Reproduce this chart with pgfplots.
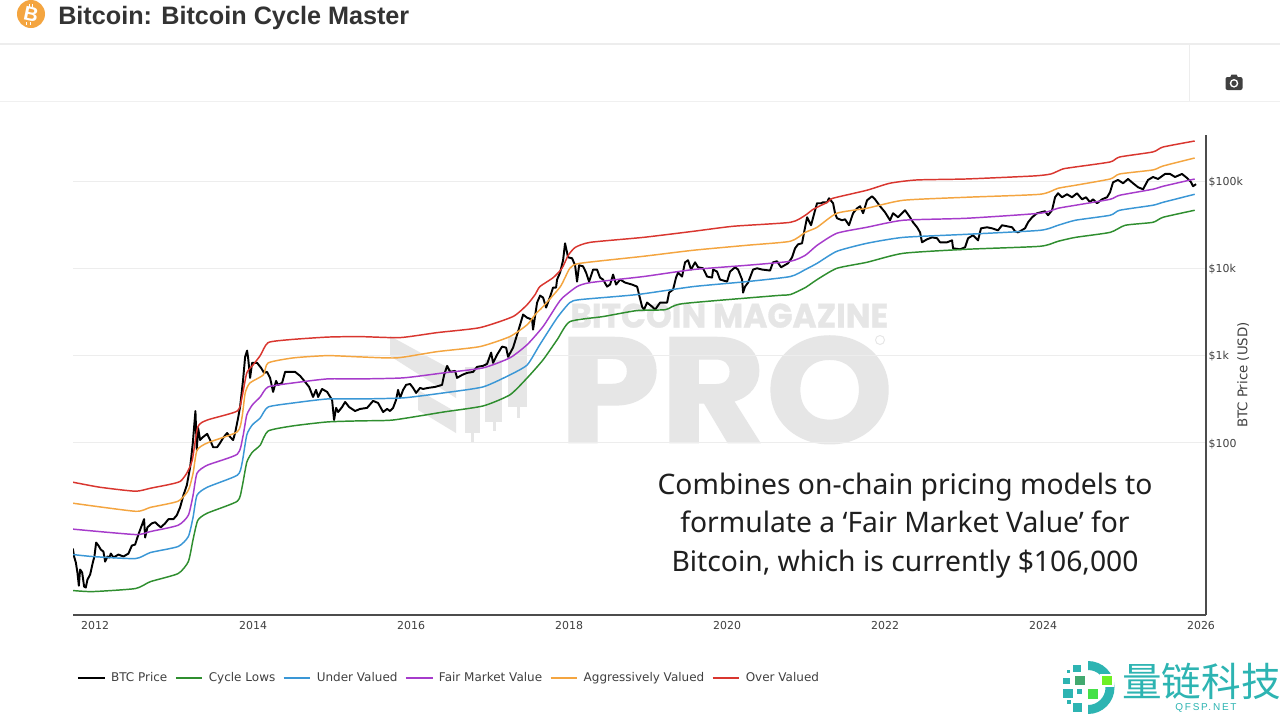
\documentclass[border=0pt]{standalone}
\usepackage{fontspec}
\usepackage{graphicx}
\usepackage{pgfplots}
\usepackage{pgfplotstable}
\pgfplotsset{compat=1.18}
\setmainfont{DejaVu Sans}
\newfontfamily\titlefont{Liberation Sans}
\newfontfamily\notefont{Noto Sans}
\newfontfamily\wmfont[BoldFeatures={FakeBold=1}]{Poppins}
\newfontfamily\cjk{Noto Sans CJK SC}
\newfontfamily\qfsp[LetterSpace=18]{Liberation Sans}

\definecolor{cRed}{HTML}{D9362F}
\definecolor{cOrange}{HTML}{F4A540}
\definecolor{cPurple}{HTML}{A63BCB}
\definecolor{cBlue}{HTML}{3A97D6}
\definecolor{cGreen}{HTML}{2F8E2F}
\definecolor{cWater}{HTML}{E6E6E6}
\definecolor{cTeal}{HTML}{2DB4B2}

% BTC price
\pgfplotstableread{
year price
2011.718 6.17
2011.734 5.0
2011.756 4.27
2011.776 3.28
2011.794 2.32
2011.81 3.55
2011.836 3.28
2011.861 2.26
2011.882 2.21
2011.903 2.72
2011.937 3.11
2011.971 4.27
2011.991 5.0
2012.013 7.23
2012.042 6.68
2012.072 6.01
2012.105 5.70
2012.127 4.38
2012.156 5.0
2012.181 4.87
2012.199 5.41
2012.232 4.87
2012.295 5.27
2012.358 5.0
2012.422 5.41
2012.465 6.68
2012.506 6.86
2012.548 8.93
2012.591 11.4
2012.62 13.4
2012.633 8.25
2012.662 10.8
2012.718 12.0
2012.76 12.35
2012.801 11.4
2012.832 10.8
2012.886 12.0
2012.928 13.4
2012.991 13.4
2013.034 14.85
2013.076 18.3
2013.118 25.2
2013.161 32.8
2013.203 52.7
2013.237 100
2013.253 152
2013.27 232
2013.287 82.5
2013.304 148
2013.329 108
2013.367 117
2013.418 127
2013.456 108
2013.494 89.3
2013.544 89.3
2013.582 100
2013.62 114
2013.671 130
2013.709 117
2013.747 108
2013.772 130
2013.81 193
2013.835 258
2013.873 527
2013.899 967
2013.924 1141
2013.937 942
2013.962 556
2013.987 825
2014.051 825
2014.101 723
2014.139 634
2014.177 651
2014.215 556
2014.253 384
2014.291 513
2014.316 462
2014.367 487
2014.405 651
2014.468 651
2014.532 651
2014.595 586
2014.658 500
2014.709 438
2014.759 336
2014.797 405
2014.823 336
2014.873 415
2014.937 384
2015.0 311
2015.025 183
2015.051 252
2015.076 226
2015.127 258
2015.165 295
2015.215 258
2015.291 232
2015.354 245
2015.443 252
2015.519 303
2015.582 287
2015.646 226
2015.696 245
2015.734 232
2015.772 252
2015.81 311
2015.835 405
2015.861 328
2015.899 405
2015.937 462
2015.987 474
2016.025 427
2016.063 374
2016.114 427
2016.152 415
2016.215 427
2016.304 438
2016.392 462
2016.418 601
2016.456 763
2016.494 651
2016.557 668
2016.582 556
2016.646 601
2016.709 634
2016.785 651
2016.835 743
2016.911 763
2016.962 804
2017.013 1082
2017.038 825
2017.089 1027
2017.152 1268
2017.203 1235
2017.228 967
2017.291 1235
2017.354 1883
2017.418 2950
2017.468 2720
2017.532 2580
2017.544 1985
2017.595 4050
2017.633 4870
2017.671 4620
2017.709 3550
2017.76 4740
2017.797 6010
2017.835 6010
2017.848 7430
2017.886 8930
2017.924 12350
2017.949 19330
2017.987 13370
2018.038 13020
2018.076 10820
2018.101 7040
2018.127 10820
2018.177 10540
2018.215 8930
2018.253 7040
2018.304 9670
2018.354 9670
2018.392 7830
2018.43 7430
2018.481 6170
2018.519 6510
2018.557 8470
2018.595 6510
2018.646 7430
2018.709 6860
2018.797 6510
2018.861 6170
2018.886 5000
2018.924 3640
2018.949 3360
2018.987 4050
2019.051 3640
2019.089 3360
2019.152 4050
2019.241 4050
2019.266 5270
2019.316 5700
2019.354 7830
2019.38 8930
2019.43 8040
2019.468 11710
2019.506 12350
2019.544 9670
2019.595 11710
2019.633 10270
2019.696 10000
2019.747 8040
2019.81 7830
2019.823 9670
2019.873 9170
2019.911 7430
2020.0 7040
2020.038 9170
2020.101 10270
2020.139 9670
2020.19 7430
2020.203 5270
2020.228 6170
2020.266 6860
2020.329 9670
2020.38 10000
2020.443 9670
2020.544 9420
2020.582 11710
2020.633 12030
2020.684 10270
2020.772 11410
2020.823 13370
2020.861 16950
2020.899 18830
2020.949 19330
2020.975 25800
2021.013 38400
2021.063 31100
2021.114 46200
2021.139 55600
2021.19 55600
2021.215 57000
2021.266 57000
2021.291 63400
2021.342 55600
2021.367 42700
2021.392 37400
2021.456 35500
2021.494 36400
2021.544 31100
2021.595 42700
2021.646 48700
2021.684 51300
2021.722 42700
2021.772 60100
2021.835 66800
2021.873 61700
2021.937 51300
2022.0 43800
2022.063 35500
2022.101 42700
2022.165 38400
2022.253 46200
2022.316 38400
2022.354 33600
2022.405 29500
2022.443 25800
2022.468 19850
2022.532 21500
2022.595 22600
2022.658 22100
2022.696 19850
2022.785 19850
2022.848 20900
2022.861 16950
2022.949 16510
2023.013 17400
2023.051 22100
2023.114 23900
2023.177 20900
2023.215 28700
2023.291 29500
2023.354 28700
2023.43 27200
2023.481 31100
2023.544 30300
2023.608 29500
2023.646 26500
2023.684 25800
2023.772 28700
2023.81 33600
2023.861 38400
2023.924 42700
2024.025 45000
2024.063 40500
2024.114 46200
2024.152 65100
2024.19 72300
2024.241 65100
2024.304 70400
2024.367 65100
2024.43 72300
2024.494 61700
2024.544 65100
2024.595 57000
2024.633 61700
2024.684 55600
2024.747 61700
2024.81 65100
2024.848 74300
2024.886 96700
2024.949 102700
2025.013 94200
2025.076 105400
2025.139 94200
2025.203 84700
2025.266 80400
2025.329 102700
2025.392 111100
2025.456 105400
2025.544 120300
2025.608 120300
2025.671 111100
2025.759 120300
2025.823 108200
2025.873 97000
2025.899 87000
2025.937 92000
}\btcprice

\pgfplotstableread{
year price
2011.72 2.04
2011.97 1.985
2012.51 2.15
2012.70 2.58
2013.05 3.19
2013.18 4.38
2013.24 7.83
2013.30 13.0
2013.42 15.7
2013.80 21.5
2013.86 31.1
2013.92 60.1
2013.99 78.3
2014.09 94.2
2014.19 137
2014.51 157
2014.94 174
2015.35 179
2015.77 183
2016.41 226
2016.91 265
2017.25 355
2017.47 556
2017.67 893
2017.85 1525
2018.01 2450
2018.43 2800
2018.86 3280
2019.22 3360
2019.44 3940
2020.63 4870
2020.80 5000
2020.99 6010
2021.14 7430
2021.39 10000
2021.77 11710
2022.23 14850
2023.03 16510
2023.96 17860
2024.19 20380
2024.41 22600
2024.85 25800
2025.04 31100
2025.39 33600
2025.52 38400
2025.92 46200
}\cyclelows

\pgfplotstableread{
year price
2011.72 5.27
2011.97 5.0
2012.51 4.74
2012.70 5.56
2013.05 6.51
2013.18 8.47
2013.24 14.1
2013.29 25.2
2013.42 31.1
2013.80 42.7
2013.86 58.6
2013.92 123.5
2013.99 161
2014.09 193
2014.19 258
2014.51 287
2014.94 319
2015.35 319
2015.90 328
2016.41 374
2016.91 438
2017.25 601
2017.47 783
2017.63 1337
2017.85 2720
2018.01 4050
2018.14 4380
2018.86 5000
2019.57 6170
2020.25 7040
2020.80 8040
2020.99 9670
2021.14 11410
2021.39 15660
2021.77 19330
2022.23 22600
2023.03 24500
2023.96 27200
2024.19 31100
2024.41 35500
2024.85 40500
2024.97 46200
2025.39 52700
2025.52 57000
2025.92 70400
}\undervalued

\pgfplotstableread{
year price
2011.72 10.3
2012.51 8.93
2012.70 9.67
2013.05 11.4
2013.18 14.85
2013.24 25.2
2013.29 45
2013.42 55.6
2013.80 74.3
2013.87 117
2013.92 209
2013.99 272
2014.09 336
2014.19 438
2014.51 487
2014.94 541
2015.35 541
2015.90 556
2016.41 634
2016.91 723
2017.25 942
2017.47 1337
2017.67 2150
2017.85 3840
2017.92 4620
2018.10 6170
2018.27 6860
2018.94 8040
2019.57 9670
2020.25 10820
2020.80 12030
2020.99 14090
2021.14 18340
2021.39 25200
2021.77 29500
2022.23 35500
2023.03 37400
2023.96 42700
2024.19 48700
2024.41 52700
2024.85 61700
2024.97 68600
2025.39 80400
2025.52 87000
2025.92 105400
}\fairvalue

\pgfplotstableread{
year price
2011.72 20.4
2012.51 16.5
2012.70 18.3
2013.05 21.5
2013.18 28.7
2013.24 45
2013.29 82.5
2013.42 100
2013.80 134
2013.86 198
2013.90 374
2013.96 487
2014.13 601
2014.19 825
2014.51 942
2014.94 1000
2015.35 967
2015.82 942
2016.33 1111
2016.87 1268
2017.25 1651
2017.47 2260
2017.57 2950
2017.67 3640
2017.89 6170
2018.01 10000
2018.14 11410
2018.94 13720
2019.57 16080
2020.25 18340
2020.80 20380
2020.99 25800
2021.14 29500
2021.39 42700
2021.77 48700
2022.23 60100
2023.03 65100
2023.96 70400
2024.19 82500
2024.41 89300
2024.85 105400
2024.97 120300
2025.39 133700
2025.52 148500
2025.92 183400
}\aggressive

\pgfplotstableread{
year price
2011.72 35.5
2012.06 31.1
2012.51 28
2012.70 30.3
2012.95 33.6
2013.08 36.4
2013.16 45
2013.23 63.4
2013.30 152.5
2013.42 183
2013.80 232
2013.86 336
2013.92 634
2014.00 783
2014.09 1000
2014.19 1409
2014.47 1525
2014.94 1630
2015.35 1651
2015.86 1608
2016.33 1834
2016.87 2090
2017.29 2800
2017.47 3840
2017.57 5000
2017.63 6170
2017.80 7830
2017.91 10000
2017.99 14090
2018.08 17400
2018.27 19850
2018.94 22600
2019.57 26500
2020.08 30300
2020.80 33600
2020.99 40500
2021.09 47400
2021.27 57000
2021.34 63400
2021.77 78300
2022.06 94200
2022.40 102700
2023.03 105400
2023.88 114100
2024.10 120300
2024.25 137200
2024.41 144700
2024.85 165100
2024.97 188300
2025.39 215000
2025.52 245000
2025.92 287000
}\overvalued

\begin{document}
\begin{tikzpicture}[x=0.75pt,y=-0.75pt]
\path[use as bounding box,fill=white] (0,0) rectangle (1280,719);

% page header
\fill[black!7] (0,43) rectangle (1280,45);
\fill[black!6] (0,100.5) rectangle (1280,102);
\fill[black!7] (1188.5,44) rectangle (1189.5,101);
\fill[cOrange] (31,14) circle[radius=14];
\node[white,font=\titlefont\bfseries\fontsize{15}{15}\selectfont,rotate=-12] at (31,14.5) {B};
\foreach \dx in {-1.5,2} {
  \fill[white] (30+\dx,3.8) rectangle (31+\dx,7);
  \fill[white] (27.5+\dx,21.5) rectangle (28.5+\dx,25);
}
\node[anchor=west,inner sep=0pt,text=black!80,font=\titlefont\bfseries\fontsize{18.9}{21}\selectfont] at (58,18) {Bitcoin: Bitcoin Cycle Master};
% camera icon
\fill[black!75,rounded corners=1.5pt] (1225.5,77) rectangle (1242.5,90);
\fill[black!75] (1230,77.5) -- (1231.5,74.5) -- (1236.5,74.5) -- (1238,77.5) -- cycle;
\fill[white] (1234,83.3) circle[radius=4.3];
\fill[black!75] (1234,83.3) circle[radius=2.7];

% watermark
\fill[cWater] (390,336) -- (390,356) -- (456,398) -- (456,372) -- cycle;
\fill[cWater] (418,410) -- (456,433) -- (456,412) -- (418,390) -- cycle;
\fill[cWater] (465,367) rectangle (480,433);
\fill[cWater] (471,430) rectangle (474,443);
\fill[cWater] (485,360) rectangle (502,422);
\fill[cWater] (493,420) rectangle (496,431);
\fill[cWater] (508,337) rectangle (527,407);
\fill[cWater] (517,405) rectangle (520,418);
\node[anchor=south west,inner sep=0pt,text=cWater] at (570,328)
  {\resizebox{238.5pt}{18pt}{\wmfont\bfseries BITCOIN MAGAZINE}};
\node[anchor=south west,inner sep=0pt,text=cWater] at (558.8,444)
  {\resizebox{250.5pt}{80pt}{\wmfont\bfseries PRO}};
\draw[cWater,line width=0.7pt] (880,340) circle[radius=4.5];

\begin{axis}[
    at={(54.75pt,-461.25pt)},
    anchor=south west,
    scale only axis,
    width=849.75pt,
    height=360pt,
    xmin=2011.72, xmax=2026.063,
    ymin=1.07, ymax=336000,
    ymode=log,
    axis x line*=bottom,
    axis y line*=right,
    axis line style={draw=black!70,line width=0.8pt,-},
    tick style={draw=none},
    major tick length=0pt,
    minor tick length=0pt,
    xtick={2012,2014,...,2026},
    xticklabel style={/pgf/number format/1000 sep={},/pgf/number format/assume math mode=true,text=black!75,font=\fontsize{8.2}{10}\selectfont,yshift=-1.5pt},
    ytick={100,1000,10000,100000},
    yticklabels={\$100,\$1k,\$10k,\$100k},
    yticklabel style={anchor=west,text=black!75,font=\fontsize{8.2}{10}\selectfont,xshift=-1.5pt,yshift=-0.75pt},
    ymajorgrids,
    major grid style={draw=black!7,line width=0.7pt},
    ylabel={BTC Price (USD)},
    ylabel style={at={(axis description cs:1.0327,0.5)},anchor=center,rotate=0,text=black!75,font=\fontsize{10}{12}\selectfont},
    legend columns=-1,
    legend cell align=left,
    legend style={at={(0.0035,-0.1312)},anchor=west,draw=none,fill=none,inner sep=0pt,
      font=\fontsize{9}{11}\selectfont,text=black!75,
      /tikz/every odd column/.append style={column sep=2.25pt},
      /tikz/every even column/.append style={column sep=3.75pt}},
    legend image code/.code={\draw[#1,line width=1.1pt] (0pt,0pt) -- (20pt,0pt);},
    line join=round,
]
\addplot[black,line width=1.45pt] table[x=year,y=price] {\btcprice};
\addplot[cGreen,line width=1.1pt,smooth,tension=0.35] table[x=year,y=price] {\cyclelows};
\addplot[cBlue,line width=1.1pt,smooth,tension=0.35] table[x=year,y=price] {\undervalued};
\addplot[cPurple,line width=1.1pt,smooth,tension=0.35] table[x=year,y=price] {\fairvalue};
\addplot[cOrange,line width=1.1pt,smooth,tension=0.35] table[x=year,y=price] {\aggressive};
\addplot[cRed,line width=1.1pt,smooth,tension=0.35] table[x=year,y=price] {\overvalued};
\legend{BTC Price,Cycle Lows,Under Valued,Fair Market Value,Aggressively Valued,Over Valued}
\end{axis}

% note over the chart
\node[align=center,inner sep=0pt,text=black!88,font=\notefont\fontsize{21.2}{29}\selectfont] at (905,525.5)
  {Combines on-chain pricing models to\\formulate a ‘Fair Market Value’ for\\Bitcoin, which is currently \$106,000};

% site logo, lower right
\fill[cTeal] (1088,661) arc[start angle=-90,end angle=90,radius=26.5] -- (1088,705) arc[start angle=90,end angle=-90,radius=17.5] -- cycle;
\fill[cTeal] (1073,665) rectangle (1081,672);
\fill[cTeal!60!green!70!black!80] (1075,676) rectangle (1085,685);
\fill[cTeal] (1063,678) rectangle (1070,684);
\fill[cTeal] (1063,689) rectangle (1073,698);
\fill[cTeal] (1077,689) rectangle (1082,694);
\fill[green!50!cTeal!80!yellow] (1088,689) rectangle (1098,699);
\fill[white] (1100,674) rectangle (1114,687);
\fill[green!50!yellow!80!cTeal] (1102,676) rectangle (1112,685);
\fill[cTeal] (1073,703) rectangle (1082,712);
\fill[cTeal] (1067,700) rectangle (1071,704);
\fill[cTeal] (1067,670) rectangle (1070,673);
\node[anchor=west,inner sep=0pt,text=cTeal,font=\cjk\fontsize{29.7}{31}\selectfont] at (1122,681) {量链科技};
\node[anchor=west,inner sep=0pt,text=cTeal,font=\qfsp\fontsize{7.5}{9}\selectfont] at (1175,708) {QFSP.NET};
\end{tikzpicture}
\end{document}
